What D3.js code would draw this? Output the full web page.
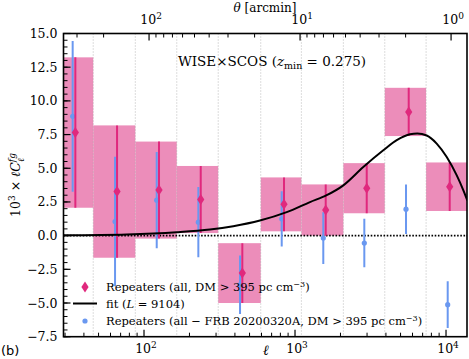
<!DOCTYPE html>
<html>
<head>
<meta charset="utf-8">
<script src="https://cdn.jsdelivr.net/npm/d3@7/dist/d3.min.js"></script>
<style>
  body { margin: 0; background: #fff; }
  svg { display: block; }
  text { font-family: "DejaVu Serif", serif; fill: #000; }
</style>
</head>
<body>
<div id="chart"></div>
<script>
// bin edges in ell, and the two data sets
var binEdges = [24.4, 46.1, 87.6, 164.8, 310, 593, 1102, 2090, 3930, 7380, 13900];

var pinkEll = [35.1, 66.3, 125.7, 237.5, 447.8, 845.6, 1597, 2985, 5662, 10580];
var pinkVal = [7.65, 3.27, 3.38, 2.68, -2.78, 2.32, 1.9, 3.52, 9.18, 3.63];
var pinkErr = [5.58, 4.91, 3.6, 2.49, 2.22, 2.0, 1.9, 1.86, 1.79, 1.8];

var blueEll = [33.7, 64.3, 121.4, 229, 432.4, 816.5, 1539, 2877, 5433, 10260];
var blueVal = [8.85, 1.05, 2.63, 1.0, -3.65, 1.25, -0.18, -0.55, 1.96, -5.12];
var blueErr = [5.6, 4.8, 3.57, 2.6, 2.17, 2.05, 1.92, 1.8, 1.83, 1.74];

var fitEll = [29.3, 76.8, 164.8, 273.5, 390, 586, 881, 1257, 1621, 2089, 2833, 3843, 4718, 5778, 6457, 7451, 8675, 10110, 11780, 13030, 13840];
var fitVal = [0.03, 0.09, 0.25, 0.45, 0.70, 1.12, 1.74, 2.49, 3.0, 3.73, 5.09, 6.33, 7.08, 7.52, 7.57, 7.43, 6.83, 5.83, 4.47, 3.36, 2.61];

var yTicks = [-7.5, -5.0, -2.5, 0.0, 2.5, 5.0, 7.5, 10.0, 12.5, 15.0];
var xMajor = [100, 1000, 10000];
var thetaMajor = [100, 10, 1];

var pinkBox = '#ec8dba', pinkLine = '#e0287d', blue = '#6a98f0';

var width = 469, height = 359;
var L = 63.5, R = 467, T = 33.5, B = 336.7;

var svg = d3.select('#chart').append('svg')
    .attr('width', width)
    .attr('height', height);

var x = d3.scaleLog().domain([29.3, 13770]).range([L, R]);
var y = d3.scaleLinear().domain([-7.5, 15]).range([B, T]);

svg.append('clipPath').attr('id', 'clip')
  .append('rect').attr('x', L).attr('y', T).attr('width', R - L).attr('height', B - T);

var plot = svg.append('g').attr('clip-path', 'url(#clip)');

// pink error boxes, one per bin
plot.selectAll('rect.box')
  .data(pinkVal)
  .enter().append('rect')
    .attr('class', 'box')
    .attr('x', function(d, i) { return x(binEdges[i]); })
    .attr('width', function(d, i) { return x(binEdges[i+1]) - x(binEdges[i]); })
    .attr('y', function(d, i) { return y(d + pinkErr[i]); })
    .attr('height', function(d, i) { return y(d - pinkErr[i]) - y(d + pinkErr[i]); })
    .attr('fill', pinkBox);

// dotted grid at bin edges
plot.selectAll('line.grid')
  .data(binEdges)
  .enter().append('line')
    .attr('x1', function(d) { return x(d); })
    .attr('x2', function(d) { return x(d); })
    .attr('y1', T).attr('y2', B)
    .attr('stroke', '#aaa')
    .attr('stroke-width', 0.8)
    .attr('stroke-dasharray', '1,2');

// zero line
plot.append('line')
  .attr('x1', L).attr('x2', R)
  .attr('y1', y(0)).attr('y2', y(0))
  .attr('stroke', '#000')
  .attr('stroke-width', 1.6)
  .attr('stroke-dasharray', '1.6,1.6');

// blue errorbars + dots
plot.selectAll('line.berr')
  .data(blueVal)
  .enter().append('line')
    .attr('x1', function(d, i) { return x(blueEll[i]); })
    .attr('x2', function(d, i) { return x(blueEll[i]); })
    .attr('y1', function(d, i) { return y(d + blueErr[i]); })
    .attr('y2', function(d, i) { return y(d - blueErr[i]); })
    .attr('stroke', blue)
    .attr('stroke-width', 2);
plot.selectAll('circle.bdot')
  .data(blueVal)
  .enter().append('circle')
    .attr('cx', function(d, i) { return x(blueEll[i]); })
    .attr('cy', function(d) { return y(d); })
    .attr('r', 2.6)
    .attr('fill', blue);

// pink errorbars + diamonds
plot.selectAll('line.perr')
  .data(pinkVal)
  .enter().append('line')
    .attr('x1', function(d, i) { return x(pinkEll[i]); })
    .attr('x2', function(d, i) { return x(pinkEll[i]); })
    .attr('y1', function(d, i) { return y(d + pinkErr[i]); })
    .attr('y2', function(d, i) { return y(d - pinkErr[i]); })
    .attr('stroke', pinkLine)
    .attr('stroke-width', 2);

var diamond = 'M0,-5.5L3.6,0L0,5.5L-3.6,0Z';
plot.selectAll('path.pdia')
  .data(pinkVal)
  .enter().append('path')
    .attr('d', diamond)
    .attr('transform', function(d, i) { return 'translate(' + x(pinkEll[i]) + ',' + y(d) + ')'; })
    .attr('fill', pinkLine);

// fit curve
var line = d3.line()
    .x(function(d, i) { return x(fitEll[i]); })
    .y(function(d) { return y(d); })
    .curve(d3.curveMonotoneX);
plot.append('path')
  .attr('d', line(fitVal))
  .attr('fill', 'none')
  .attr('stroke', '#000')
  .attr('stroke-width', 2);

// frame
svg.append('rect')
  .attr('x', L).attr('y', T).attr('width', R - L).attr('height', B - T)
  .attr('fill', 'none').attr('stroke', '#000').attr('stroke-width', 1.6);

// ticks
var minorL = [];
[10, 100, 1000, 10000].forEach(function(dec) {
  for (var k = 2; k <= 9; k++) minorL.push(dec * k);
});
minorL = minorL.filter(function(v) { return v > 29.3 && v < 13770; });

var ticks = svg.append('g').attr('stroke', '#000');
// bottom
xMajor.forEach(function(v) {
  ticks.append('line').attr('x1', x(v)).attr('x2', x(v)).attr('y1', B).attr('y2', B - 7).attr('stroke-width', 1.2);
});
minorL.forEach(function(v) {
  ticks.append('line').attr('x1', x(v)).attr('x2', x(v)).attr('y1', B).attr('y2', B - 4).attr('stroke-width', 1);
});
// top: theta = 10800 / ell arcmin
var thetaMinor = [];
[1, 10, 100].forEach(function(dec) {
  for (var k = 2; k <= 9; k++) thetaMinor.push(dec * k);
});
thetaMinor = thetaMinor.filter(function(t) { var l = 10800 / t; return l > 29.3 && l < 13770; });
thetaMajor.forEach(function(t) {
  var px = x(10800 / t);
  ticks.append('line').attr('x1', px).attr('x2', px).attr('y1', T).attr('y2', T + 7).attr('stroke-width', 1.2);
});
thetaMinor.forEach(function(t) {
  var px = x(10800 / t);
  ticks.append('line').attr('x1', px).attr('x2', px).attr('y1', T).attr('y2', T + 4).attr('stroke-width', 1);
});
// left
yTicks.forEach(function(v) {
  ticks.append('line').attr('x1', L).attr('x2', L + 7).attr('y1', y(v)).attr('y2', y(v)).attr('stroke-width', 1.2);
});
for (var v = -7.5; v <= 15.001; v += 0.5) {
  ticks.append('line').attr('x1', L).attr('x2', L + 4).attr('y1', y(v)).attr('y2', y(v)).attr('stroke-width', 1);
}

// tick labels
var fmt = function(v) { return d3.format('.1f')(v).replace('-', '\u2212'); };
svg.selectAll('text.yl')
  .data(yTicks)
  .enter().append('text')
    .attr('x', L - 6)
    .attr('y', function(d) { return y(d) + 4.5; })
    .attr('text-anchor', 'end')
    .attr('font-size', 12.5)
    .text(fmt);

function powLabel(g, px, py, exp) {
  var t = g.append('text').attr('x', px).attr('y', py).attr('text-anchor', 'middle').attr('font-size', 12.5);
  t.append('tspan').text('10');
  t.append('tspan').attr('dy', -5).attr('font-size', 9).text(exp);
}
xMajor.forEach(function(v, i) { powLabel(svg, x(v) + 2, 353, String(i + 2)); });
thetaMajor.forEach(function(t, i) { powLabel(svg, x(10800 / t) + 2, 24, String(2 - i)); });

// axis titles
svg.append('text').attr('x', 266).attr('y', 354.5).attr('text-anchor', 'middle')
  .attr('font-size', 14).attr('font-style', 'italic').text('\u2113');
var th = svg.append('text').attr('x', 265).attr('y', 12).attr('text-anchor', 'middle').attr('font-size', 12);
th.append('tspan').attr('font-style', 'italic').text('\u03b8');
th.append('tspan').text(' [arcmin]');

var yl = svg.append('text')
  .attr('transform', 'translate(20,185) rotate(-90)')
  .attr('text-anchor', 'middle')
  .attr('font-size', 12.5);
yl.append('tspan').text('10');
yl.append('tspan').attr('dy', -5).attr('font-size', 9).text('3');
yl.append('tspan').attr('dy', 5).text(' \u00d7 ');
yl.append('tspan').attr('font-style', 'italic').text('\u2113C');
yl.append('tspan').attr('dy', -5).attr('font-size', 9).attr('font-style', 'italic').text('fg');
yl.append('tspan').attr('dx', -9).attr('dy', 9).attr('font-size', 9).attr('font-style', 'italic').text('\u2113');

svg.append('text').attr('x', 1).attr('y', 355)
  .style('font-family', '"DejaVu Sans", sans-serif')
  .attr('font-size', 13).text('(b)');

// annotation
var an = svg.append('text').attr('x', 272).attr('y', 66).attr('text-anchor', 'middle').attr('font-size', 13.5);
an.append('tspan').text('WISE\u00d7SCOS (');
an.append('tspan').attr('font-style', 'italic').text('z');
an.append('tspan').attr('dy', 3).attr('font-size', 9.5).text('min');
an.append('tspan').attr('dy', -3).text(' = 0.275)');

// legend
var lg = svg.append('g').attr('font-size', 11.5);
var lx = 85, ly = [287, 303.5, 321];
lg.append('path').attr('d', diamond).attr('transform', 'translate(' + lx + ',' + ly[0] + ')').attr('fill', pinkLine);
lg.append('line').attr('x1', lx - 12).attr('x2', lx + 12).attr('y1', ly[1]).attr('y2', ly[1]).attr('stroke', '#000').attr('stroke-width', 2);
lg.append('circle').attr('cx', lx).attr('cy', ly[2]).attr('r', 2.6).attr('fill', blue);

function cmText(g, py, pre) {
  var t = g.append('text').attr('x', 106).attr('y', py + 4);
  t.append('tspan').text(pre + ' DM > 395 pc cm');
  t.append('tspan').attr('dy', -4.5).attr('font-size', 8).text('\u22123');
  t.append('tspan').attr('dy', 4.5).text(')');
}
cmText(lg, ly[0], 'Repeaters (all,');
var ft = lg.append('text').attr('x', 106).attr('y', ly[1] + 4);
ft.append('tspan').text('fit (');
ft.append('tspan').attr('font-style', 'italic').text('L');
ft.append('tspan').text(' = 9104)');
cmText(lg, ly[2], 'Repeaters (all \u2212 FRB 20200320A,');
</script>
</body>
</html>
